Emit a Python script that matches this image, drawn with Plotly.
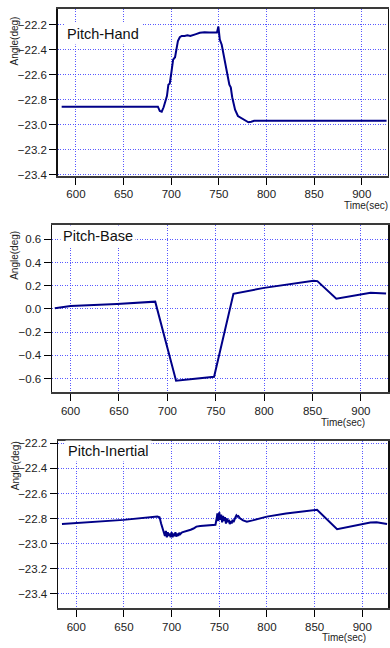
import plotly.graph_objects as go

# ---------------- data ----------------
t_hand = [585, 686, 688, 690, 692, 694, 695.5, 697, 698.5, 700, 702, 704, 705.5, 707, 709, 711, 714, 717,
          720, 723, 726, 730, 735, 740, 745, 748, 749.5, 751, 753, 755, 757, 759, 761, 762.5, 764, 765.5,
          767, 770, 773, 777, 781, 784, 787, 800, 850, 900, 926]
v_hand = [-22.855, -22.855, -22.89, -22.895, -22.86, -22.80, -22.77, -22.68, -22.67, -22.59, -22.48, -22.46,
          -22.40, -22.33, -22.30, -22.29, -22.29, -22.285, -22.29, -22.28, -22.275, -22.265, -22.26, -22.262,
          -22.262, -22.262, -22.215, -22.32, -22.36, -22.45, -22.53, -22.60, -22.68, -22.70, -22.78, -22.84,
          -22.88, -22.93, -22.945, -22.965, -22.98, -22.975, -22.968, -22.968, -22.968, -22.968, -22.968]

t_base = [583.7, 600, 648, 687.5, 709, 734, 748.3, 768.3, 800, 851, 855, 874.6, 910, 926]
v_base = [0.006, 0.026, 0.043, 0.063, -0.618, -0.600, -0.584, 0.131, 0.182, 0.244, 0.240, 0.088, 0.139, 0.134]

t_inert = [585, 649.6, 685, 687.4, 689, 690.5, 692, 693, 694, 695, 696, 697, 698, 699, 700, 701, 702, 703,
           704, 705, 706, 707, 708, 709, 711, 714, 717, 720, 723, 726, 730, 740, 746, 747.5, 748, 749, 750,
           751, 752, 753, 754, 755, 756, 757, 758, 759, 760, 761, 762, 763, 764, 765, 766, 767, 768, 769,
           770, 772, 775, 779, 785, 800, 820, 849, 852.6, 873.6, 890, 908.5, 915, 926]
v_inert = [-22.843, -22.811, -22.785, -22.790, -22.84, -22.88, -22.90, -22.94, -22.90, -22.95, -22.91, -22.94,
           -22.92, -22.95, -22.91, -22.95, -22.92, -22.94, -22.91, -22.945, -22.92, -22.94, -22.915, -22.925,
           -22.91, -22.905, -22.90, -22.89, -22.88, -22.865, -22.86, -22.855, -22.85, -22.79, -22.76, -22.82,
           -22.75, -22.81, -22.77, -22.83, -22.78, -22.82, -22.79, -22.84, -22.80, -22.83, -22.81, -22.845,
           -22.82, -22.84, -22.81, -22.83, -22.80, -22.79, -22.775, -22.785, -22.78, -22.80, -22.815, -22.825,
           -22.815, -22.785, -22.76, -22.732, -22.73, -22.885, -22.86, -22.832, -22.83, -22.843]

titles = ["Pitch-Hand", "Pitch-Base", "Pitch-Inertial"]
x_ticks = [600, 650, 700, 750, 800, 850, 900]
y_ticks_angle = [-23.4, -23.2, -23.0, -22.8, -22.6, -22.4, -22.2]
y_ticks_base = [-0.6, -0.4, -0.2, 0.0, 0.2, 0.4, 0.6]

# ---------------- layout helpers ----------------
W, H = 390, 648
def px_x(p): return p / W
def px_y(p): return 1 - p / H

panels = [
    # (x0, x1, top, bottom, xrange, yrange, yticks)
    (58, 388.5, 6, 175, [581, 927], [-23.408, -22.074], y_ticks_angle),
    (52.3, 389, 225, 394, [581, 928], [-0.717, 0.722], y_ticks_base),
    (58.3, 389, 443.3, 612.5, [581, 927], [-23.515, -22.179], y_ticks_angle),
]
series = [(t_hand, v_hand), (t_base, v_base), (t_inert, v_inert)]

fig = go.Figure()
font_family = "Liberation Sans, Arial, sans-serif"
grid_color = "rgba(60,60,255,0.85)"

layout = dict(
    width=W, height=H, margin=dict(l=0, r=0, t=0, b=0),
    paper_bgcolor="white", plot_bgcolor="white", showlegend=False,
    font=dict(family=font_family, color="#222", size=12),
)

annotations = []
for i, (x0, x1, top, bot, xr, yr, yt) in enumerate(panels):
    n = "" if i == 0 else str(i + 1)
    t, v = series[i]
    fig.add_trace(go.Scatter(x=t, y=v, mode="lines", line=dict(color="#000088", width=2),
                             xaxis="x" + n, yaxis="y" + n, hoverinfo="skip"))
    layout["xaxis" + n] = dict(
        domain=[px_x(x0), px_x(x1)], anchor="y" + n, range=xr,
        tickvals=x_ticks, ticks="outside", ticklen=7, tickcolor="black", tickwidth=1,
        showgrid=True, gridcolor=grid_color, griddash="1px,1.5px", gridwidth=1,
        showline=True, linecolor="#3a3a3a", linewidth=1.8, mirror=True,
        zeroline=False, tickfont=dict(size=11.5, color="#222"),
    )
    layout["yaxis" + n] = dict(
        domain=[px_y(bot), px_y(top)], anchor="x" + n, range=yr,
        tickvals=yt, tickformat=".1f", ticks="outside", ticklen=7, tickcolor="black", tickwidth=1,
        showgrid=True, gridcolor=grid_color, griddash="1px,1.5px", gridwidth=1,
        showline=True, linecolor="#111", linewidth=1.6, mirror=True,
        zeroline=False, tickfont=dict(size=11.5, color="#222"),
    )

# panel titles
title_pos = [(64, 31), (60, 236), (65, 454)]
for (x, y), txt in zip(title_pos, titles):
    annotations.append(dict(text=txt, x=px_x(x), y=px_y(y), xref="paper", yref="paper",
                            xanchor="left", yanchor="middle", showarrow=False,
                            font=dict(size=14.5, color="#111", family=font_family),
                            bgcolor="white", borderpad=2))

# y-axis titles
ylab_pos = [38, 255, 468]
for y in ylab_pos:
    annotations.append(dict(text="Angle(deg)", x=px_x(15), y=px_y(y), xref="paper", yref="paper",
                            xanchor="center", yanchor="middle", textangle=-90, showarrow=False,
                            font=dict(size=10, color="#222", family=font_family)))

# x-axis titles
xlab_pos = [(366.5, 205), (344, 424.5), (344.5, 642)]
for x, y in xlab_pos:
    annotations.append(dict(text="Time(sec)", x=px_x(x), y=px_y(y), xref="paper", yref="paper",
                            xanchor="center", yanchor="middle", showarrow=False,
                            font=dict(size=10, color="#222", family=font_family)))

layout["annotations"] = annotations
fig.update_layout(**layout)
fig.write_html("out.html", config={"displayModeBar": False, "staticPlot": True},
               post_script="document.body.style.margin='0';document.body.style.overflow='hidden';")
